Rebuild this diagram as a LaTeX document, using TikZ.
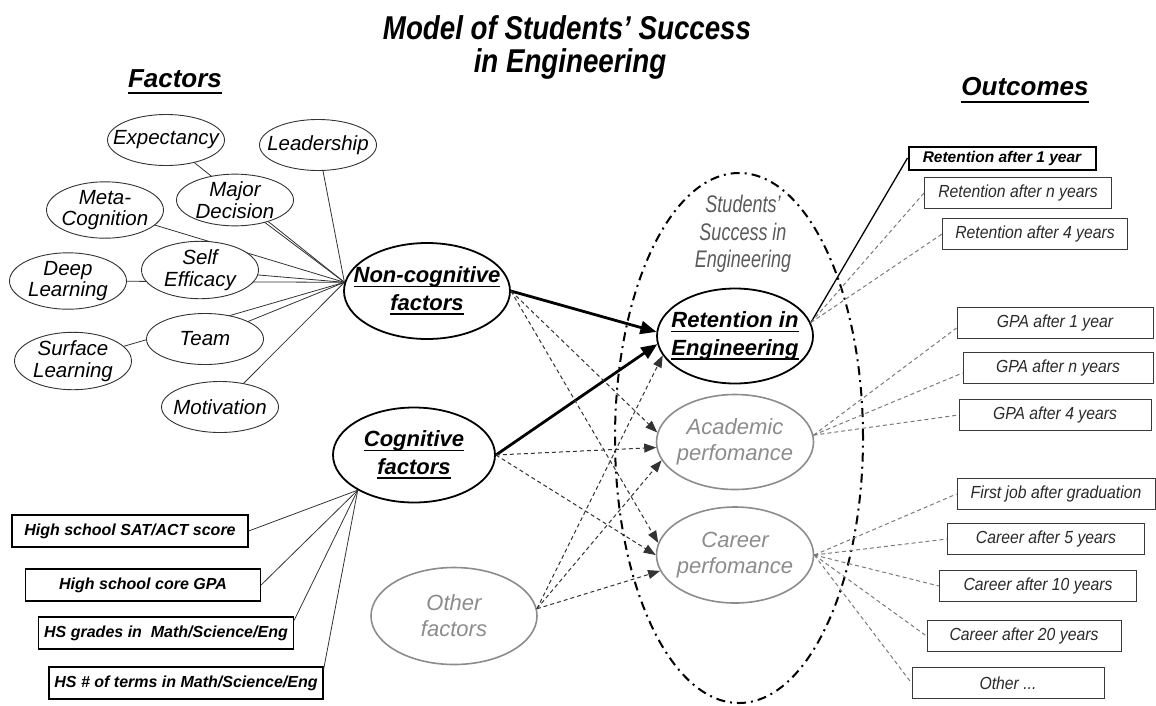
\documentclass[tikz,border=0pt]{standalone}
\usepackage{fontspec}
\setmainfont{Liberation Sans}
\newfontfamily\titlefont[FakeStretch=0.84]{Liberation Sans}
\newfontfamily\narrowfont[FakeStretch=0.9]{Liberation Sans}
\newfontfamily\slimfont[FakeStretch=0.75]{Liberation Sans}
\newcommand{\myul}[1]{\setbox0\hbox{#1}\leavevmode\rlap{\vrule height -3pt depth 4.5pt width \wd0}\box0}
\newcommand{\zw}[1]{\makebox[0pt]{#1}}
\usetikzlibrary{shapes.geometric,arrows.meta}
\pgfdeclarelayer{bg}
\pgfsetlayers{bg,main}
\definecolor{grayell}{HTML}{8C8C8C}
\definecolor{dline}{HTML}{333333}
\definecolor{oline}{HTML}{7A7A7A}
\definecolor{boxline}{HTML}{3A3A3A}
\definecolor{boxtext}{HTML}{2A2A2A}
\definecolor{sstext}{HTML}{5A5A5A}
\tikzset{
  smallell/.style={ellipse, draw=black!80, line width=0.9pt, fill=white, minimum width=117pt, minimum height=51pt, inner sep=0pt, align=center, font=\fontsize{20.5}{21.5}\selectfont\itshape},
  bigell/.style={ellipse, draw, line width=1.8pt, fill=white, minimum height=96pt, inner sep=0pt, align=center, font=\fontsize{22}{27.5}\selectfont\bfseries\itshape},
  grayellipse/.style={ellipse, draw=grayell, line width=1.6pt, fill=white, minimum height=96pt, inner sep=0pt, align=center, text=grayell, font=\fontsize{22}{26}\selectfont\itshape},
  lbox/.style={draw, line width=1.2pt, minimum height=32pt, inner sep=0pt, fill=white, font=\fontsize{16}{16}\selectfont\bfseries\itshape},
  obox/.style={draw=boxline, line width=1pt, minimum height=31pt, inner sep=0pt, fill=white, text=boxtext, font=\narrowfont\fontsize{17.5}{17.5}\selectfont\itshape},
  hubline/.style={draw=black!80, line width=0.8pt},
  thickarr/.style={line width=2.8pt, -{Triangle[length=16pt,width=13pt]}},
  darr/.style={draw=dline, line width=1pt, dash pattern=on 4pt off 3pt, -{Triangle[length=12pt,width=9pt]}},
  odash/.style={draw=oline, line width=1pt, dash pattern=on 4pt off 3pt},
  heading/.style={anchor=base, inner sep=0pt, font=\fontsize{26}{26}\selectfont\bfseries\itshape}
}
\begin{document}
\begin{tikzpicture}[x=1pt,y=-1pt]
\path[use as bounding box] (0,0) rectangle (1156,705);

% titles
\node[anchor=base, inner sep=0pt, font=\titlefont\fontsize{33}{33}\selectfont\bfseries\itshape] (title1) at (567,39) {Model of Students’ Success};
\node[anchor=base, inner sep=0pt, font=\titlefont\fontsize{33}{33}\selectfont\bfseries\itshape] (title2) at (570,72) {in Engineering};
\node[heading] (fac) at (175,87) {Factors};
\draw[line width=2pt] ([yshift=-6pt]fac.base west) -- ([yshift=-6pt]fac.base east);
\node[heading] (outc) at (1025,95) {Outcomes};
\draw[line width=2pt] ([yshift=-7pt]outc.base west) -- ([yshift=-7pt]outc.base east);

% big dash-dot ellipse
\node[ellipse, draw, line width=2pt, dash pattern=on 9pt off 5pt on 2pt off 5pt, minimum width=248pt, minimum height=530pt, inner sep=0pt] (succ) at (739,438) {};
\node[align=center, text=sstext, inner sep=0pt, font=\slimfont\fontsize{24}{27.5}\selectfont\itshape] (succlabel) at (743,234) {Students’\\Success in\\Engineering};

% main ellipses
\node[bigell, minimum width=166pt] (noncog) at (427,291) {\zw{\myul{Non-cognitive}}\\\zw{\myul{factors}}};
\node[bigell, minimum width=162pt, minimum height=95pt] (cog) at (414,455) {\zw{\myul{Cognitive}}\\\zw{\myul{factors}}};
\node[grayellipse, minimum width=166pt, minimum height=97pt] (other) at (454,616) {\zw{Other}\\\zw{factors}};
\node[bigell, minimum width=156pt, minimum height=95pt] (ret) at (735,336) {\zw{\myul{Retention in}}\\\zw{\myul{Engineering}}};
\node[grayellipse, minimum width=157pt, minimum height=95pt] (acad) at (735,442) {\zw{Academic}\\\zw{perfomance}};
\node[grayellipse, minimum width=157pt] (car) at (735,555) {\zw{Career}\\\zw{perfomance}};

% non-cognitive factor ellipses
\node[smallell] (expect) at (166,140) {\zw{Expectancy}};
\node[smallell] (lead) at (318,145) {\zw{Leadership}};
\node[smallell] (major) at (235,200) {\zw{Major}\\\zw{Decision}};
\node[smallell] (meta) at (105,210) {\zw{Meta-}\\\zw{Cognition}};
\node[smallell] (deep) at (68,281) {\zw{Deep}\\\zw{Learning}};
\node[smallell] (self) at (200,270) {\zw{Self}\\\zw{Efficacy}};
\node[smallell] (team) at (205,339) {\zw{Team}};
\node[smallell] (surf) at (73,361) {\zw{Surface}\\\zw{Learning}};
\node[smallell] (motiv) at (220,407) {\zw{Motivation}};

\coordinate (nhub) at (noncog.174);
\coordinate (chub) at (cog.212);
\begin{pgfonlayer}{bg}
\foreach \n in {expect,lead,major,meta,deep,self,team,surf,motiv}
  \draw[hubline] (nhub) -- (\n.center);
\end{pgfonlayer}

% cognitive factor boxes
\node[lbox, minimum width=236pt] (sat) at (130,531) {High school SAT/ACT score};
\node[lbox, minimum width=235pt] (gpa) at (143,585) {High school core GPA};
\node[lbox, minimum width=255pt] (grades) at (166,633) {HS grades in\ \ Math/Science/Eng};
\node[lbox, minimum width=274pt] (terms) at (186,683) {HS \# of terms in Math/Science/Eng};
\draw[hubline] (chub) -- (sat.east);
\draw[hubline] (chub) -- (gpa.east);
\draw[hubline] (chub) -- ([yshift=-4pt]grades.north east);
\draw[hubline] (chub) -- ([yshift=-3pt]terms.north east);

% arrows to success outcomes
\draw[thickarr] (noncog.east) -- (ret.177);
\draw[thickarr] (cog.east) -- (ret.186);
\draw[darr] (noncog.east) -- (acad.173);
\draw[darr] (noncog.east) -- (car.171);
\draw[darr] (cog.east) -- (acad.184);
\draw[darr] (cog.east) -- (car.180);
\draw[darr] (other.5) -- (ret.195);
\draw[darr] (other.5) -- (acad.194);
\draw[darr] (other.5) -- (car.192);

% outcome boxes
\node[draw, line width=2pt, minimum width=187pt, minimum height=23pt, inner sep=0pt, fill=white, font=\fontsize{15.5}{15.5}\selectfont\bfseries\itshape] (r1) at (1002,158) {Retention after 1 year};
\node[obox, minimum width=187pt] (rn) at (1018,193) {Retention after n years};
\node[obox, minimum width=185pt] (r4) at (1035,234) {Retention after 4 years};
\node[obox, minimum width=196pt] (g1) at (1055,323) {GPA after 1 year};
\node[obox, minimum width=190pt] (gn) at (1058,368) {GPA after n years};
\node[obox, minimum width=192pt] (g4) at (1055,415) {GPA after 4 years};
\node[obox, minimum width=198pt] (job) at (1056,494) {First job after graduation};
\node[obox, minimum width=197pt] (c5) at (1046,539) {Career after 5 years};
\node[obox, minimum width=197pt] (c10) at (1038,586) {Career after 10 years};
\node[obox, minimum width=194pt] (c20) at (1024,636) {Career after 20 years};
\node[obox, minimum width=192pt] (oth) at (1008,683) {Other ...};

\coordinate (rhub) at (ret.10);
\coordinate (ahub) at (acad.5);
\coordinate (khub) at (car.east);
\draw[line width=1.3pt] (rhub) -- (r1.west);
\draw[odash] (rhub) -- (rn.west);
\draw[odash] (rhub) -- (r4.west);
\draw[odash] (ahub) -- ([yshift=-5pt]g1.west);
\draw[odash] (ahub) -- ([yshift=-5pt]gn.west);
\draw[odash] (ahub) -- (g4.west);
\draw[odash] (khub) -- (job.west);
\draw[odash] (khub) -- (c5.west);
\draw[odash] (khub) -- (c10.west);
\draw[odash] (khub) -- (c20.west);
\draw[odash] (khub) -- (oth.west);
\end{tikzpicture}
\end{document}
